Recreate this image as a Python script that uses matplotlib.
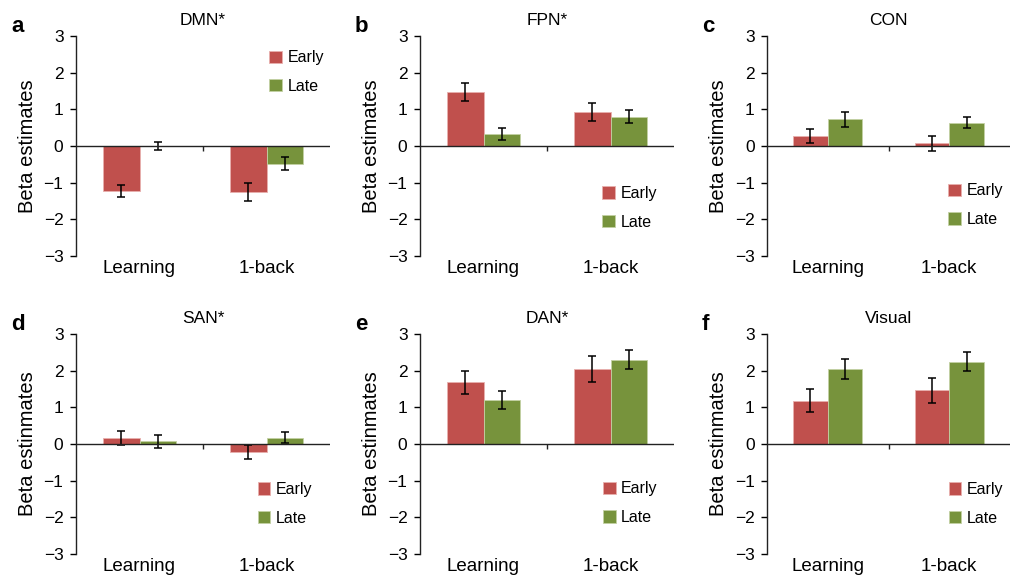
import matplotlib
matplotlib.use('Agg')
import matplotlib.pyplot as plt
import numpy as np

plt.rcParams['font.family'] = ['Liberation Sans', 'DejaVu Sans']

categories = ['Learning', '1-back']
panels = ['a', 'b', 'c', 'd', 'e', 'f']
titles = ['DMN*', 'FPN*', 'CON', 'SAN*', 'DAN*', 'Visual']
ylabels = ['Beta estimates'] * 3 + ['Beta estinmates'] * 3

early = [[-1.23, -1.25], [1.47, 0.93], [0.28, 0.07],
         [0.16, -0.22], [1.68, 2.05], [1.18, 1.46]]
early_err = [[0.17, 0.24], [0.25, 0.24], [0.19, 0.21],
             [0.20, 0.20], [0.31, 0.35], [0.32, 0.33]]
late = [[0.0, -0.48], [0.33, 0.80], [0.73, 0.63],
        [0.07, 0.17], [1.20, 2.30], [2.04, 2.25]]
late_err = [[0.12, 0.17], [0.17, 0.18], [0.20, 0.15],
            [0.17, 0.15], [0.24, 0.26], [0.27, 0.27]]

red = '#C0504D'
green = '#77933C'

W, H = 1011, 576
# axes boxes in pixels: left, right, top, bottom
boxes = [(76, 330, 36, 256), (420, 674, 36, 256), (767, 1010, 36, 256),
         (76, 330, 334, 554), (420, 674, 334, 554), (767, 1010, 334, 554)]
# legend anchor (axes fraction)
leg_pos = [(0.76, 0.935), (0.717, 0.318), (0.745, 0.33),
           (0.715, 0.327), (0.72, 0.33), (0.747, 0.327)]

fig = plt.figure(figsize=(W / 100, H / 100), dpi=100)
bw = 0.285
x = np.arange(len(categories))

for i in range(6):
    l, r, t, b = boxes[i]
    ax = fig.add_axes([l / W, (H - b) / H, (r - l) / W, (b - t) / H])
    ax.bar(x - bw / 2, early[i], bw, color=red, edgecolor='#E8B0AE', lw=0.6, label='Early')
    ax.bar(x + bw / 2, late[i], bw, color=green, edgecolor='#C3D1A4', lw=0.6, label='Late')
    ax.errorbar(x - bw / 2, early[i], yerr=early_err[i], fmt='none', ecolor='k',
                elinewidth=1.1, capsize=3, capthick=1.1)
    ax.errorbar(x + bw / 2, late[i], yerr=late_err[i], fmt='none', ecolor='k',
                elinewidth=1.1, capsize=3, capthick=1.1)
    ax.axhline(0, color='#222222', lw=1.0, zorder=3)
    ax.vlines(x[:-1] + 0.5, -0.14, 0, color='#222222', lw=1.0)
    ax.set_xlim(-0.5, len(categories) - 0.5)
    ax.set_ylim(-3, 3)
    ax.set_yticks(range(-3, 4))
    ax.set_yticklabels([str(v).replace('-', '\u2212') for v in range(-3, 4)])
    ax.set_xticks(x)
    ax.set_xticklabels(categories, fontsize=13.5)
    ax.tick_params(axis='x', length=0, pad=3)
    ax.tick_params(axis='y', labelsize=12.5, length=4, width=1, direction='out', pad=5)
    for s in ['top', 'right', 'bottom']:
        ax.spines[s].set_visible(False)
    ax.spines['left'].set_linewidth(1.0)
    ax.spines['left'].set_color('#222222')
    ax.set_ylabel(ylabels[i], fontsize=14.5, labelpad=5)
    ax.set_title(titles[i], fontsize=12.5, pad=8)
    ax.legend(loc='upper left', bbox_to_anchor=leg_pos[i], frameon=False,
              fontsize=11.5, borderaxespad=0, borderpad=0, handlelength=0.8,
              handleheight=0.8, handletextpad=0.35, labelspacing=0.85)
    fig.text((l - 65) / W, 1 - (t - 10) / H, panels[i], fontsize=16,
             fontweight='bold', ha='left', va='center')

fig.savefig('out.png', dpi=100)
